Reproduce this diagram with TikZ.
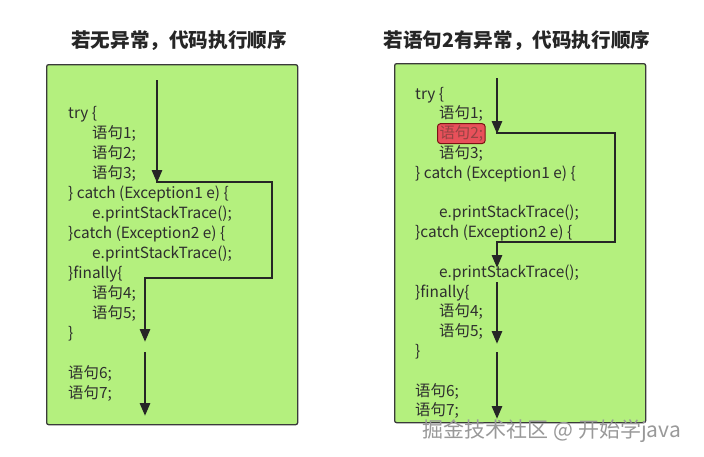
\documentclass[tikz,border=0pt]{standalone}
\usepackage{fontspec}
\setmainfont{Noto Sans CJK SC}
\usepackage{tikz}
\usetikzlibrary{arrows.meta}
\definecolor{panelgreen}{HTML}{B4F07E}
\definecolor{paneledge}{HTML}{3A3A3A}
\definecolor{codegray}{HTML}{2E2E2E}
\definecolor{errred}{HTML}{E8505A}
\definecolor{errdark}{HTML}{7A1414}
\tikzstyle{panel} = [draw=paneledge,fill=panelgreen,line width=1.3pt,rounded corners=2pt]
\tikzstyle{heading} = [font=\fontsize{19.6}{22}\selectfont\bfseries,text=black!85,inner sep=0pt]
\tikzstyle{codeline} = [anchor=base west,inner sep=0pt,text=codegray,font=\fontsize{15.4}{18}\selectfont]
\tikzstyle{hilite} = [codeline,fill=errred,draw=errdark,line width=1pt,rounded corners=3pt,inner sep=2pt]
\tikzstyle{connector} = [-{Triangle[length=13pt,width=10pt]},line width=2.8pt,black!85]
\tikzstyle{track} = [line width=2.8pt,black!85]

\begin{document}
\begin{tikzpicture}[x=1pt,y=-1pt]
	\useasboundingbox[fill=white] (0,0) rectangle (704,456);

	% titles
	\node[heading] (lefttitle) at (179,41) {若无异常，代码执行顺序};
	\node[heading] (righttitle) at (517,41) {若语句2有异常，代码执行顺序};

	% the two code panels
	\node[panel,minimum width=251pt,minimum height=360pt,anchor=north west] (leftpanel) at (46,64) {};
	\node[panel,minimum width=251pt,minimum height=359pt,anchor=north west] (rightpanel) at (394,63) {};

	% left code, no exception
	\foreach \k/\x/\t in {0/68/try \{, 1/92/语句1;, 2/92/语句2;, 3/92/语句3;,
		4/68/\} catch (Exception1 e) \{, 5/92/e.printStackTrace();,
		6/68/\}catch (Exception2 e) \{, 7/92/e.printStackTrace();,
		8/68/\}finally\{, 9/92/语句4;, 10/92/语句5;, 11/68/\},
		13/68/语句6;, 14/68/语句7;}
		\node[codeline] (l\k) at (\x,{118+20*\k}) {\t};

	% right code, exception in line 2
	\foreach \k/\x/\t in {0/415/try \{, 1/439/语句1;, 3/439/语句3;,
		4/415/\} catch (Exception1 e) \{, 6/439/e.printStackTrace();,
		7/415/\}catch (Exception2 e) \{, 9/439/e.printStackTrace();,
		10/415/\}finally\{, 11/439/语句4;, 12/439/语句5;, 13/415/\},
		15/415/语句6;, 16/415/语句7;}
		\node[codeline] (r\k) at (\x,{99+19.8*\k}) {\t};
	\node[hilite] (r2) at (437,138.6) {\color{errdark!80}语句2;};

	% flow, left
	\coordinate (a0) at (157,80);
	\coordinate (a1) at (157,183);
	\coordinate (a2) at (272,182);
	\coordinate (a3) at (272,278);
	\coordinate (a4) at (145,278);
	\coordinate (a5) at (145,342);
	\coordinate (a6) at (145,352);
	\coordinate (a7) at (145,416);
	\draw[connector] (a0) -- (a1);
	\draw[track] (156,182) -- (a2) -- (a3) -- (a4) -- ++(0,-1);
	\draw[connector] (a4) -- (a5);
	\draw[connector] (a6) -- (a7);

	% flow, right
	\coordinate (b0) at (497,78);
	\coordinate (b1) at (497,134);
	\coordinate (b2) at (615,133);
	\coordinate (b3) at (615,242);
	\coordinate (b4) at (497,242);
	\coordinate (b5) at (497,268);
	\coordinate (b6) at (497,282);
	\coordinate (b7) at (497,344);
	\coordinate (b8) at (497,352);
	\coordinate (b9) at (497,419);
	\draw[connector] (b0) -- (b1);
	\draw[track] (496,133) -- (b2) -- (b3) -- (b4) -- ++(0,-1);
	\draw[connector] (b4) -- (b5);
	\draw[connector] (b6) -- (b7);
	\draw[connector] (b8) -- (b9);

	% watermark
	\node[inner sep=0pt,text=black!40,font=\fontsize{21}{24}\selectfont] (mark) at (552,431)
		{掘金技术社区 @ 开始学java};
\end{tikzpicture}
\end{document}
